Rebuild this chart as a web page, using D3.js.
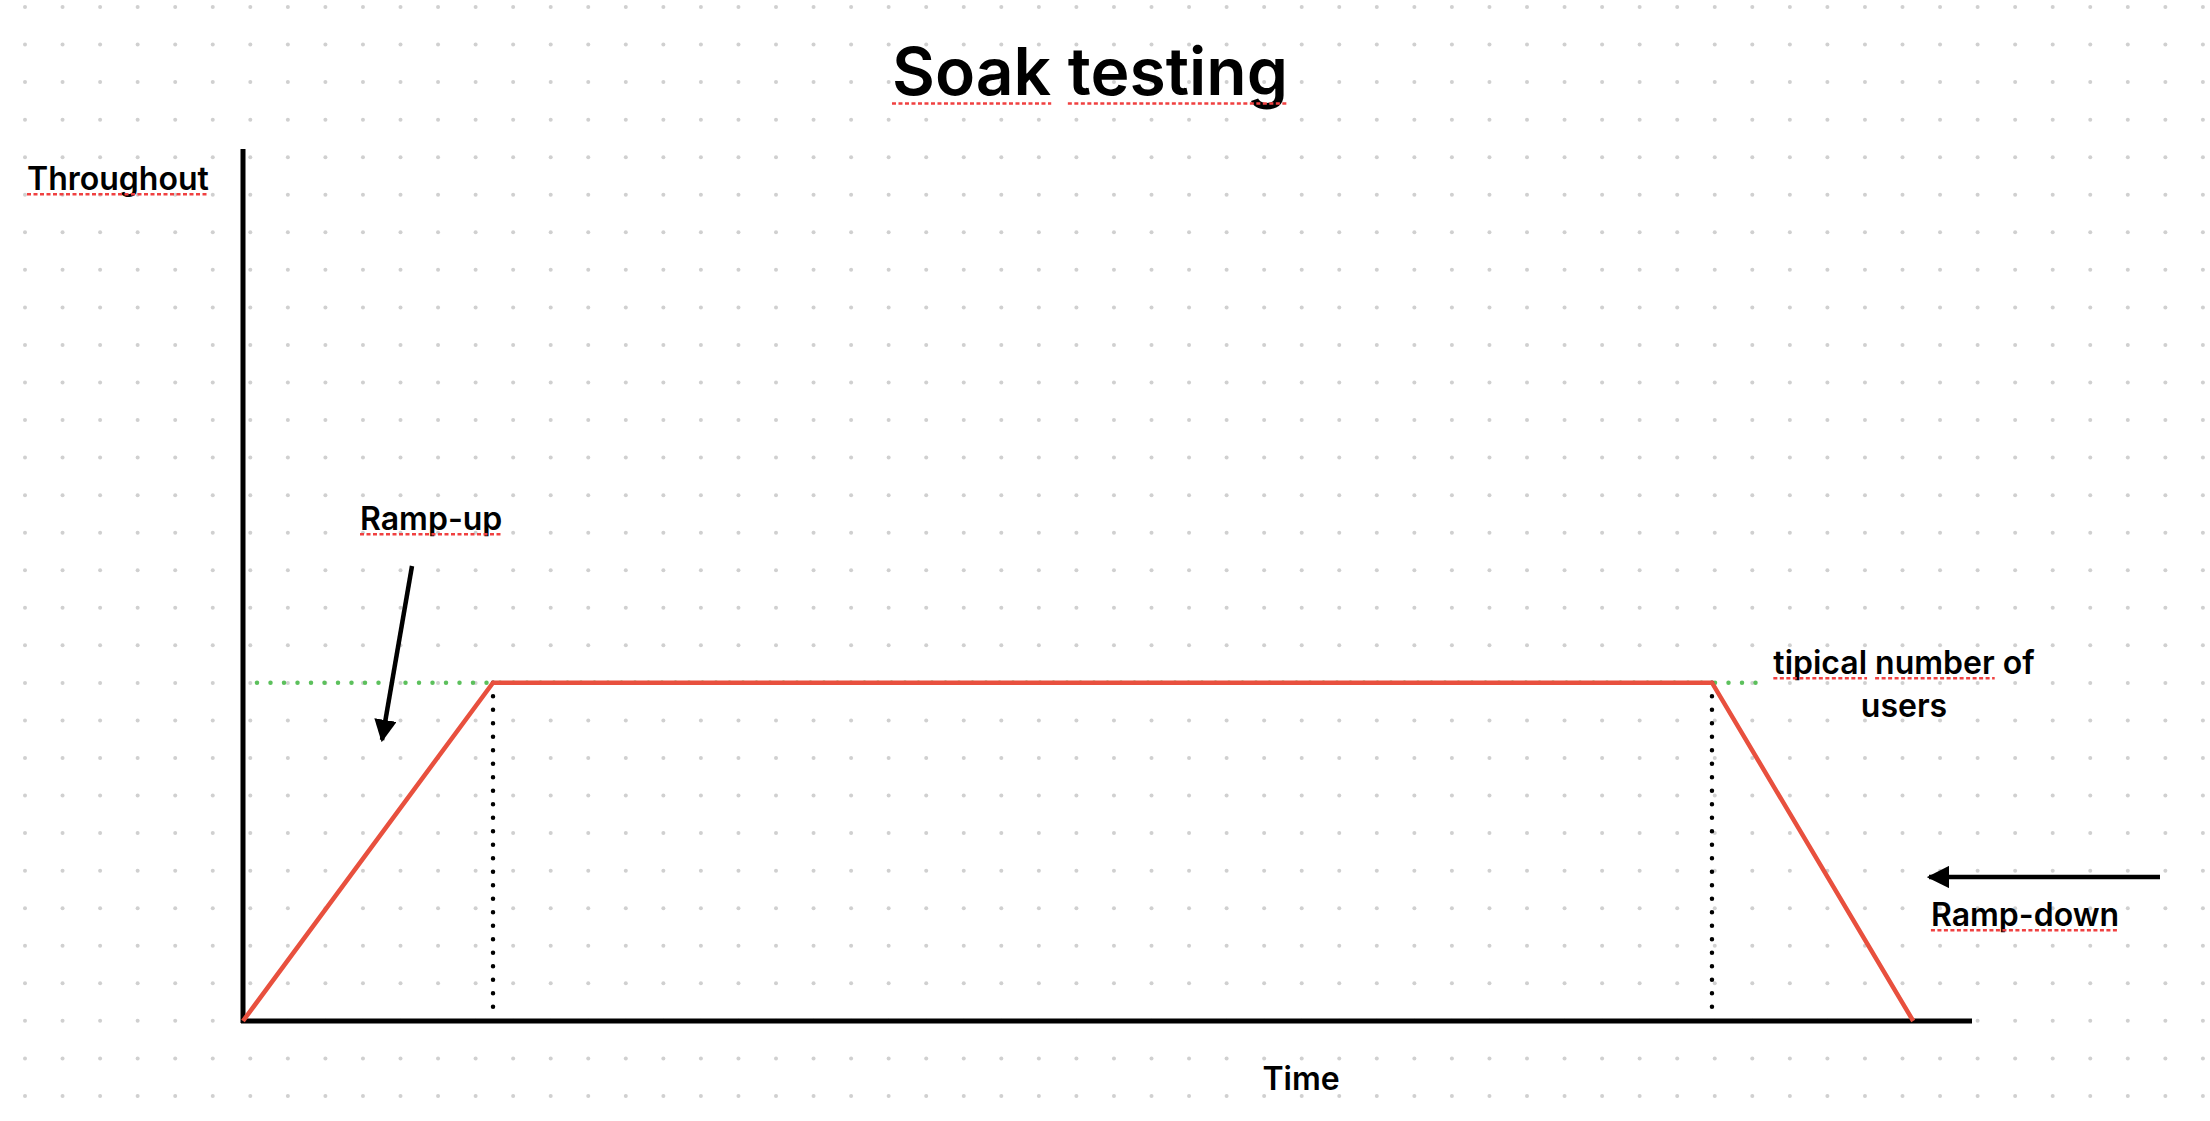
<!DOCTYPE html>
<html><head><meta charset="utf-8">
<script src="https://cdn.jsdelivr.net/npm/d3@7"></script>
<style>body{margin:0;background:#fff}text{font-family:Inter,"Noto Sans",sans-serif;font-weight:600;fill:#000}</style>
</head><body><svg id="c" width="2210" height="1121"></svg>
<script>
const timePoints=[0,14.46,84.96,96.6];
const loadValues=[0,38.8,38.8,0];
const typicalLoad=38.8;
const title="Soak testing";
const yLabel="Throughout", xLabel="Time";

const svg=d3.select("#c");
const x=d3.scaleLinear().domain([0,100]).range([243,1972]);
const y=d3.scaleLinear().domain([0,100]).range([1021,149]);

// dot grid
const gx=d3.range(25,2210,37.55), gy=d3.range(7,1121,37.55);
const g=svg.append("g");
gy.forEach(yy=>gx.forEach(xx=>g.append("circle").attr("cx",xx).attr("cy",yy).attr("r",2).attr("fill","#d0d0d0")));

// green typical line
svg.append("line").attr("x1",257).attr("x2",1765).attr("y1",y(typicalLoad)).attr("y2",y(typicalLoad))
 .attr("stroke","#5cc05c").attr("stroke-width",4.5).attr("stroke-linecap","round").attr("stroke-dasharray","0 13.5");
// dotted verticals
[timePoints[1],timePoints[2]].forEach(t=>svg.append("line").attr("x1",x(t)).attr("x2",x(t)).attr("y1",y(typicalLoad)).attr("y2",y(0)-4)
 .attr("stroke","#000").attr("stroke-width",4.5).attr("stroke-linecap","round").attr("stroke-dasharray","0 13.5"));
// axes
svg.append("line").attr("x1",x(0)).attr("x2",x(0)).attr("y1",y(100)).attr("y2",y(0)+2).attr("stroke","#000").attr("stroke-width",5);
svg.append("line").attr("x1",x(0)-2).attr("x2",x(100)).attr("y1",y(0)).attr("y2",y(0)).attr("stroke","#000").attr("stroke-width",5);
// red load line
svg.append("path").datum(timePoints.map((t,i)=>[t,loadValues[i]]))
 .attr("d",d3.line().x(d=>x(d[0])).y(d=>y(d[1]))).attr("fill","none").attr("stroke","#e8503e").attr("stroke-width",4.5);

// arrows
const defs=svg.append("defs");
defs.append("marker").attr("id","ah").attr("viewBox","0 0 10 10").attr("refX",9).attr("refY",5)
 .attr("markerWidth",5).attr("markerHeight",5).attr("markerUnits","strokeWidth").attr("orient","auto")
 .append("path").attr("d","M0,0L10,5L0,10z").attr("fill","#000");
svg.append("line").attr("x1",412).attr("y1",566).attr("x2",382).attr("y2",740).attr("stroke","#000").attr("stroke-width",4.5).attr("marker-end","url(#ah)");
svg.append("line").attr("x1",2160).attr("y1",877).attr("x2",1929).attr("y2",877).attr("stroke","#000").attr("stroke-width",4.5).attr("marker-end","url(#ah)");

// texts with spellcheck underlines
function label(txt,px,py,size,anchor,under){
  const t=svg.append("text").attr("x",px).attr("y",py).attr("font-size",size).attr("text-anchor",anchor).text(txt);
  const node=t.node(); const bb=node.getBBox();
  (under||[]).forEach(w=>{
    const i=txt.indexOf(w); if(i<0)return;
    const s=node.getStartPositionOfChar(i).x, e=node.getEndPositionOfChar(i+w.length-1).x;
    svg.append("line").attr("x1",s).attr("x2",e).attr("y1",py+size*0.13).attr("y2",py+size*0.13)
      .attr("stroke","#f04040").attr("stroke-width",2.5).attr("stroke-dasharray","4 2.5");
  });
}
label(title,1090,95,66,"middle",["Soak","testing"]);
label(yLabel,27,190,32,"start",["Throughout"]);
label("Ramp-up",360,530,32,"start",["Ramp-up"]);
label("tipical number of",1904,674,32,"middle",["tipical","number"]);
label("users",1904,717,32,"middle",[]);
label("Ramp-down",2025,926,32,"middle",["Ramp-down"]);
label(xLabel,1301,1090,32,"middle",[]);
</script></body></html>
